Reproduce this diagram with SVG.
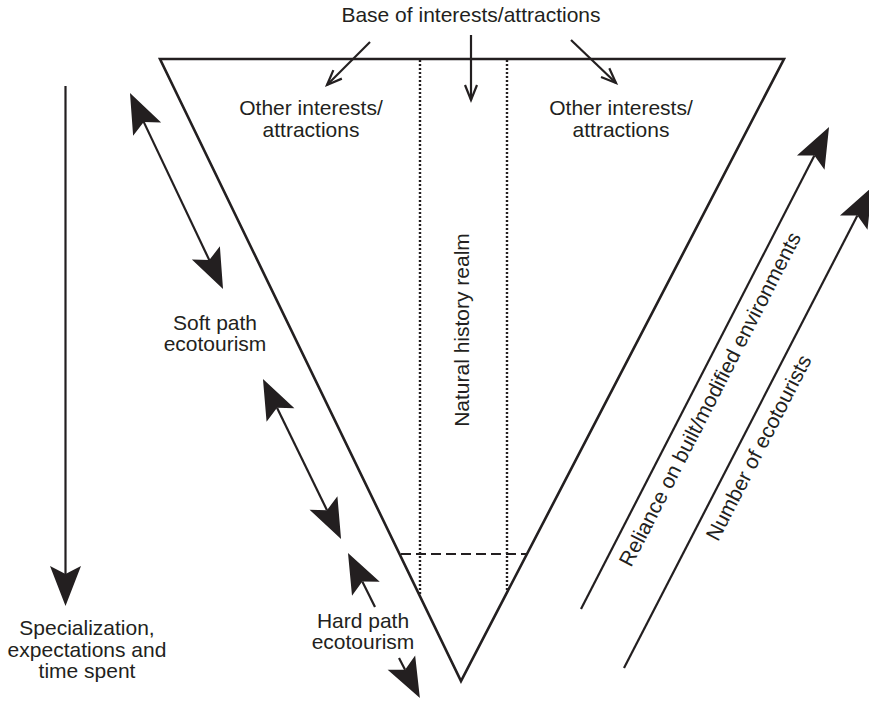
<svg xmlns="http://www.w3.org/2000/svg" width="869" height="702" viewBox="0 0 869 702">
<style>
  .ln { stroke: #231f20; stroke-width: 2.2; fill: none; }
  .tri { stroke: #231f20; stroke-width: 2.6; fill: none; stroke-linejoin: miter; }
  .dot { stroke: #231f20; stroke-width: 2.4; fill: none; stroke-dasharray: 2 2; }
  .dash { stroke: #231f20; stroke-width: 2.2; fill: none; stroke-dasharray: 10 5; }
  text { font-family: "Liberation Sans", Arial, Helvetica, sans-serif; font-size: 21px; fill: #231f20; text-anchor: middle; }
</style>
<defs>
  <marker id="big" markerUnits="userSpaceOnUse" viewBox="-10 -17 44 34" markerWidth="44" markerHeight="34" refX="0" refY="0" orient="auto-start-reverse" overflow="visible">
    <path d="M32,0 L-8,15.5 L0,0 L-8,-15.5 Z" fill="#231f20"/>
  </marker>
  <marker id="open" markerUnits="userSpaceOnUse" viewBox="-18 -9 20 18" markerWidth="20" markerHeight="18" refX="0" refY="0" orient="auto" overflow="visible">
    <path d="M-15,-6 L0,0 L-15,6" fill="none" stroke="#231f20" stroke-width="2.2"/>
  </marker>
</defs>

<g id="triangle">
  <polygon class="tri" points="160,59 784,59 461,681"/>
</g>
<g id="natural-history-realm">
  <line class="dot" x1="420" y1="60" x2="420" y2="594"/>
  <line class="dot" x1="507" y1="60" x2="507" y2="591"/>
  <line class="dash" x1="401" y1="554" x2="527" y2="554"/>
  <text transform="translate(469,330) rotate(-90)">Natural history realm</text>
</g>
<g id="base-label">
  <text x="471" y="22">Base of interests/attractions</text>
</g>
<g id="other-left">
  <text x="311" y="115">Other interests/</text>
  <text x="311" y="137">attractions</text>
</g>
<g id="other-right">
  <text x="621" y="115">Other interests/</text>
  <text x="621" y="137">attractions</text>
</g>
<g id="soft-path">
  <text x="215" y="330">Soft path</text>
  <text x="215" y="351">ecotourism</text>
</g>
<g id="hard-path">
  <text x="363" y="628">Hard path</text>
  <text x="363" y="649">ecotourism</text>
</g>
<g id="specialization">
  <text x="87" y="635">Specialization,</text>
  <text x="87" y="657">expectations and</text>
  <text x="87" y="678">time spent</text>
</g>
<g id="reliance-label">
  <text transform="translate(716.3,402.5) rotate(-62.77)">Reliance on built/modified environments</text>
</g>
<g id="number-label">
  <text transform="translate(765,451) rotate(-62.77)">Number of ecotourists</text>
</g>

<g id="connectors">
  <line class="ln" x1="370" y1="42" x2="327" y2="85" marker-end="url(#open)"/>
  <line class="ln" x1="471" y1="35" x2="471" y2="100" marker-end="url(#open)"/>
  <line class="ln" x1="571" y1="40" x2="616" y2="83" marker-end="url(#open)"/>
  <line class="ln" x1="65.5" y1="86" x2="65.5" y2="574" marker-end="url(#big)"/>
  <line class="ln" x1="143.7" y1="121.9" x2="209.3" y2="260.1" marker-start="url(#big)" marker-end="url(#big)"/>
  <line class="ln" x1="277" y1="407.8" x2="327" y2="510.2" marker-start="url(#big)" marker-end="url(#big)"/>
  <line class="ln" x1="375" y1="607" x2="362.3" y2="581.6" marker-end="url(#big)"/>
  <line class="ln" x1="399" y1="658" x2="405.1" y2="669.7" marker-end="url(#big)"/>
  <line class="ln" x1="581" y1="609" x2="814.4" y2="155.5" marker-end="url(#big)"/>
  <line class="ln" x1="624" y1="668" x2="857.4" y2="215.5" marker-end="url(#big)"/>
</g>
</svg>
